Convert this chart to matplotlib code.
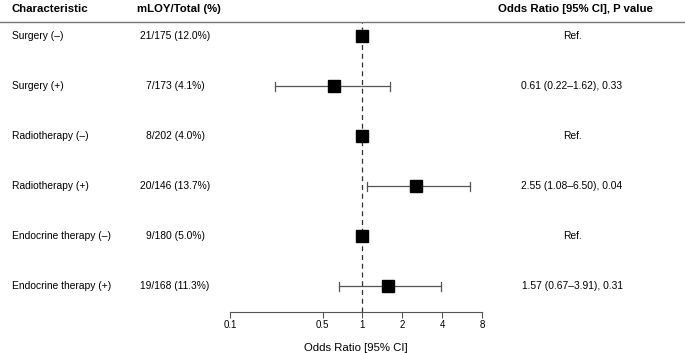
import matplotlib
matplotlib.use('Agg')
import matplotlib.pyplot as plt
import matplotlib.transforms as mtransforms

plt.rcParams['font.family'] = ['Liberation Sans', 'DejaVu Sans']

characteristics = ['Surgery (–)', 'Surgery (+)', 'Radiotherapy (–)', 'Radiotherapy (+)',
                   'Endocrine therapy (–)', 'Endocrine therapy (+)']
mloy_total = ['21/175 (12.0%)', '7/173 (4.1%)', '8/202 (4.0%)', '20/146 (13.7%)',
              '9/180 (5.0%)', '19/168 (11.3%)']
odds_ratio = [1.0, 0.61, 1.0, 2.55, 1.0, 1.57]
ci_low = [None, 0.22, None, 1.08, None, 0.67]
ci_high = [None, 1.62, None, 6.50, None, 3.91]
or_text = ['Ref.', '0.61 (0.22–1.62), 0.33', 'Ref.', '2.55 (1.08–6.50), 0.04',
           'Ref.', '1.57 (0.67–3.91), 0.31']
tick_vals = [0.1, 0.5, 1, 2, 4, 8]
tick_labels = ['0.1', '0.5', '1', '2', '4', '8']

fig = plt.figure(figsize=(6.85, 3.53), dpi=100)
ax = fig.add_axes([230 / 685, 41 / 353, 252 / 685, 290 / 353])

n = len(characteristics)
ypos = [n - i for i in range(n)]

ax.axvline(1, color='#333333', ls=(0, (4, 3)), lw=0.9, zorder=1)

for y, o, lo, hi in zip(ypos, odds_ratio, ci_low, ci_high):
    if lo is not None:
        ax.plot([lo, hi], [y, y], color='#555555', lw=0.9, zorder=2)
        ax.plot([lo, lo], [y - 0.09, y + 0.09], color='#555555', lw=0.9, zorder=2)
        ax.plot([hi, hi], [y - 0.09, y + 0.09], color='#555555', lw=0.9, zorder=2)
    ax.plot(o, y, marker='s', color='black', markersize=8, zorder=3)

ax.set_xscale('log')
ax.set_xlim(0.1, 8)
ax.set_ylim(0.48, n + 0.28)
ax.set_xticks(tick_vals)
ax.set_xticklabels(tick_labels, fontsize=7)
ax.minorticks_off()
ax.set_yticks([])
for s in ['top', 'right', 'left']:
    ax.spines[s].set_visible(False)
ax.spines['bottom'].set_color('#555555')
ax.tick_params(axis='x', length=4, color='#555555', pad=2)
ax.set_xlabel('Odds Ratio [95% CI]', fontsize=8.2, labelpad=9)

trans = mtransforms.blended_transform_factory(fig.transFigure, ax.transData)
for y, c, m, t in zip(ypos, characteristics, mloy_total, or_text):
    fig.text(12 / 685, y, c, transform=trans, fontsize=7.4, va='center', ha='left')
    fig.text(175 / 685, y, m, transform=trans, fontsize=7.4, va='center', ha='center')
    fig.text(572 / 685, y, t, transform=trans, fontsize=7.4, va='center', ha='center')

# header
hy = 1 - 9 / 353
fig.text(11 / 685, hy, 'Characteristic', fontsize=8.2, fontweight='bold', va='center', ha='left')
fig.text(137 / 685, hy, 'mLOY/Total (%)', fontsize=8.2, fontweight='bold', va='center', ha='left')
fig.text(498 / 685, hy, 'Odds Ratio [95% CI], P value', fontsize=8.2, fontweight='bold',
         va='center', ha='left')
fig.add_artist(plt.Line2D([0, 1], [1 - 22 / 353, 1 - 22 / 353], color='#777777', lw=1.0,
                          transform=fig.transFigure))

plt.savefig('out.png', dpi=100)
